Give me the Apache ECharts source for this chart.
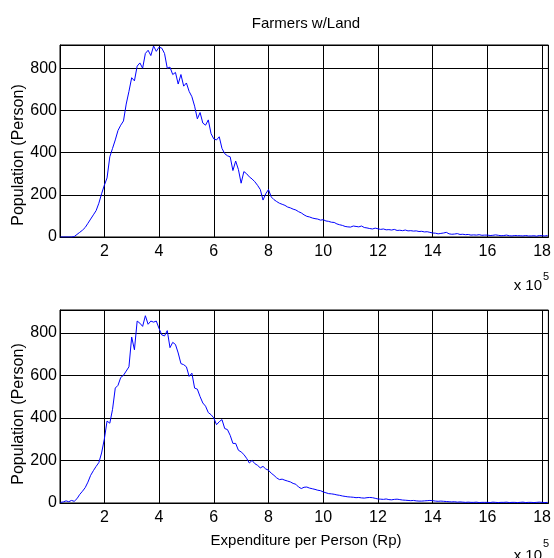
<!DOCTYPE html>
<html>
<head>
<meta charset="utf-8">
<script src="https://cdn.jsdelivr.net/npm/echarts@6/dist/echarts.min.js"></script>
<style>html,body{margin:0;padding:0;background:#fff}#c{width:554px;height:558px}</style>
</head>
<body>
<div id="c"></div>
<script>
// x values in units of 10^5 Rp, bins every 0.1 starting at 0.4
const xStart = 0.4;
const xStep = 0.1;
const xMin = 0.38, xMax = 18.23;
const yTicks = [0, 200, 400, 600, 800];
const xTickLabels = ['2','4','6','8','10','12','14','16','18'];

const titleText = 'Farmers w/Land';
const yName = 'Population (Person)';
const xName = 'Expenditure per Person (Rp)';

const topVals = [
  0,0,0,0,0,2,12,22,32,45,
  65,85,105,125,160,205,245,280,380,420,
  460,505,530,550,630,690,755,740,810,825,
  800,870,885,860,905,880,900,895,870,800,
  805,770,780,725,770,715,730,690,665,620,
  560,590,540,530,555,490,465,460,475,420,
  395,385,380,315,360,320,255,310,300,285,
  275,262,245,225,175,205,225,190,177,168,
  160,155,150,142,138,132,128,120,114,105,
  98,95,90,87,85,80,82,76,74,70,
  69,62,58,55,50,48,47,52,50,48,
  52,45,43,40,38,42,39,36,38,34,
  35,33,36,31,32,30,33,29,30,28,
  29,26,27,24,25,22,19,18,15,17,
  19,22,15,13,14,16,12,13,11,12,
  9,10,9,11,8,9,9,7,8,10,
  8,6,7,9,6,5,7,6,6,5,
  7,5,5,6,4,7,6,5,7
];

const bottomVals = [
  3,5,10,6,12,8,20,40,55,72,
  98,130,152,172,190,235,300,385,375,440,
  540,553,590,600,620,640,780,720,855,845,
  830,880,840,855,850,855,820,790,785,810,
  730,755,745,705,655,650,640,595,610,540,
  535,500,470,455,425,415,400,368,382,392,
  350,345,318,280,280,248,240,228,210,188,
  200,185,177,165,172,160,154,140,130,118,
  110,112,107,103,99,92,88,75,68,74,
  75,70,67,64,60,58,52,48,44,43,
  41,38,36,33,31,29,28,27,25,26,
  24,23,25,26,25,22,19,18,17,19,
  16,15,17,18,16,14,13,12,11,12,
  10,9,9,10,11,12,11,9,8,9,
  8,7,6,5,6,4,5,4,3,4,
  3,3,4,2,3,3,3,2,4,3,
  2,3,3,4,2,3,3,2,3,4,
  2,3,3,2,3,4,3,2,3
];

const topYMax = 910;
const bottomYMax = 907;

function pairs(vals){ return vals.map((v,i)=>[Math.round((xStart+i*xStep)*10)/10, v]); }

const FONT = "'Liberation Sans', Arial, Helvetica, sans-serif";
const chart = echarts.init(document.getElementById('c'), null, {renderer:'canvas'});

function xAxisDef(gi){
  return {
    type:'value', gridIndex:gi, min:xMin, max:xMax, splitNumber:9,
    axisLine:{show:true, onZero:false, lineStyle:{color:'#000', width:1}},
    axisTick:{show:false},
    axisLabel:{color:'#000', fontFamily:FONT, fontSize:16, margin:7,
      showMinLabel:false, showMaxLabel:false,
      formatter:function(v){ const s=String(Math.round(v)); return (Math.abs(v-Math.round(v))<1e-6 && xTickLabels.indexOf(s)>=0)? s : ''; }},
    splitLine:{show:true, lineStyle:{color:'#000', width:1}}
  };
}
function yAxisDef(gi, ymax){
  return {
    type:'value', gridIndex:gi, min:0, max:ymax, interval:200,
    axisLine:{show:true, lineStyle:{color:'#000', width:1}},
    axisTick:{show:false},
    axisLabel:{color:'#000', fontFamily:FONT, fontSize:16, margin:3, showMaxLabel:false,
      formatter:function(v){ return yTicks.indexOf(v)>=0 ? String(v) : ''; }},
    splitLine:{show:true, lineStyle:{color:'#000', width:1}}
  };
}

const option = {
  animation:false,
  backgroundColor:'#fff',
  grid:[
    {left:60, top:45, width:489, height:192, show:true, borderColor:'#000', borderWidth:1, backgroundColor:'#fff'},
    {left:60, top:310, width:489, height:193, show:true, borderColor:'#000', borderWidth:1, backgroundColor:'#fff'}
  ],
  xAxis:[xAxisDef(0), xAxisDef(1)],
  yAxis:[yAxisDef(0, topYMax), yAxisDef(1, bottomYMax)],
  series:[
    {type:'line', xAxisIndex:0, yAxisIndex:0, data:pairs(topVals), showSymbol:false, symbol:'none',
     lineStyle:{color:'#0000ff', width:1}, itemStyle:{color:'#0000ff'}},
    {type:'line', xAxisIndex:1, yAxisIndex:1, data:pairs(bottomVals), showSymbol:false, symbol:'none',
     lineStyle:{color:'#0000ff', width:1}, itemStyle:{color:'#0000ff'}}
  ],
  graphic:[
    {type:'text', x:306, y:24, style:{text:titleText, fill:'#000', font:'15px '+FONT, textAlign:'center', textVerticalAlign:'middle'}},
    {type:'text', x:19, y:155, rotation:Math.PI/2, style:{text:yName, fill:'#000', font:'16px '+FONT, textAlign:'center', textVerticalAlign:'middle'}},
    {type:'text', x:19, y:414, rotation:Math.PI/2, style:{text:yName, fill:'#000', font:'16px '+FONT, textAlign:'center', textVerticalAlign:'middle'}},
    {type:'text', x:306, y:541, style:{text:xName, fill:'#000', font:'15px '+FONT, textAlign:'center', textVerticalAlign:'middle'}},
    {type:'text', x:542, y:286, style:{text:'x 10', fill:'#000', font:'15px '+FONT, textAlign:'right', textVerticalAlign:'middle'}},
    {type:'text', x:543, y:277, style:{text:'5', fill:'#000', font:'11px '+FONT, textAlign:'left', textVerticalAlign:'middle'}},
    {type:'text', x:542, y:556, style:{text:'x 10', fill:'#000', font:'15px '+FONT, textAlign:'right', textVerticalAlign:'middle'}},
    {type:'text', x:543, y:544, style:{text:'5', fill:'#000', font:'11px '+FONT, textAlign:'left', textVerticalAlign:'middle'}}
  ]
};
chart.setOption(option);
</script>
</body>
</html>
